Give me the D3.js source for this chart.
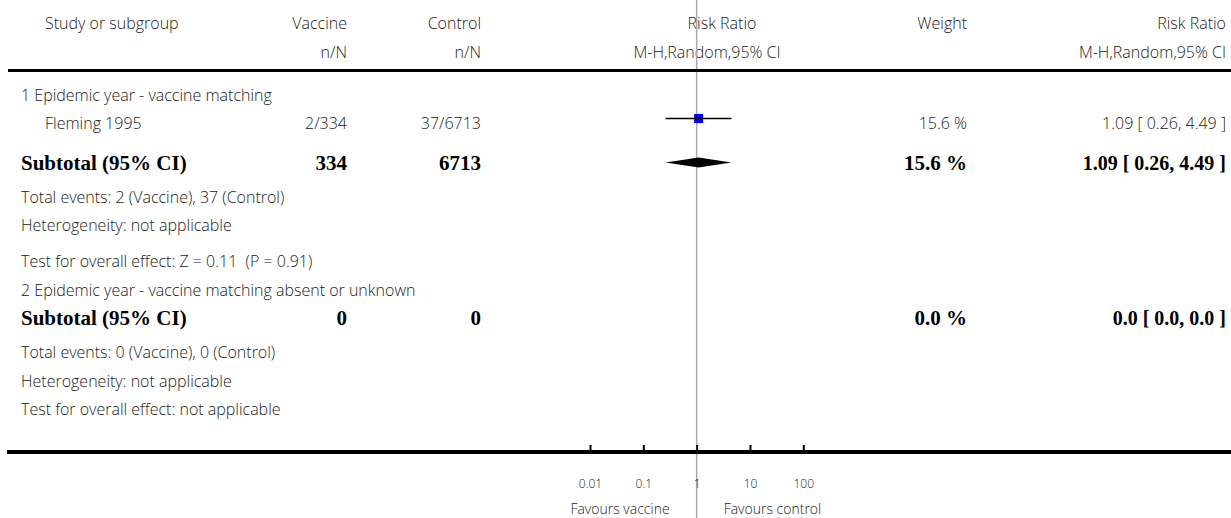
<!DOCTYPE html>
<html>
<head>
<meta charset="utf-8">
<script src="https://cdn.jsdelivr.net/npm/d3@7"></script>
<style>
  html, body { margin: 0; padding: 0; background: #fff; }
  svg { display: block; }
  .sans { font-family: "Open Sans", Lato, sans-serif; font-size: 16px; font-weight: 300; fill: #222; white-space: pre; }
  .bold { font-family: "Liberation Serif", "DejaVu Serif", serif; font-size: 21px; font-weight: bold; fill: #000; white-space: pre; }
  .ci { font-size: 20px; }
</style>
</head>
<body>
<svg id="chart" width="1231" height="518"></svg>
<script>
// Column headers
const headerTop = ["Study or subgroup", "Vaccine", "Control", "Risk Ratio", "Weight", "Risk Ratio"];
const headerSub = ["", "n/N", "n/N", "M-H,Random,95% CI", "", "M-H,Random,95% CI"];

// Subgroup 1: epidemic year - vaccine matching
const group1Title = "1 Epidemic year - vaccine matching";
const studies = ["Fleming 1995"];
const vaccineEvents = [2];
const vaccineTotals = [334];
const controlEvents = [37];
const controlTotals = [6713];
const studyRR = [1.09];
const studyLow = [0.26];
const studyHigh = [4.49];
const studyWeights = [15.6];

const group1Subtotal = { vaccineN: 334, controlN: 6713, weight: 15.6, rr: 1.09, low: 0.26, high: 4.49 };
const group1Notes = [
  "Total events: 2 (Vaccine), 37 (Control)",
  "Heterogeneity: not applicable",
  "Test for overall effect: Z = 0.11  (P = 0.91)"
];

// Subgroup 2: matching absent or unknown
const group2Title = "2 Epidemic year - vaccine matching absent or unknown";
const group2Subtotal = { vaccineN: 0, controlN: 0, weight: 0.0, rr: 0.0, low: 0.0, high: 0.0 };
const group2Notes = [
  "Total events: 0 (Vaccine), 0 (Control)",
  "Heterogeneity: not applicable",
  "Test for overall effect: not applicable"
];

// Axis ticks and direction labels
const axisTicks = [0.01, 0.1, 1, 10, 100];
const favourLabels = ["Favours vaccine", "Favours control"];

const svg = d3.select("#chart");
const W = 1231, H = 518;

// Column anchors
const col = { studyIndent: 45, groupIndent: 21, vaccine: 347, control: 481, rrHead: 722, rrCenter: 707, weight: 967, rrText: 1226 };

const x = d3.scaleLog().domain([0.01, 100]).range([590, 803.3]);

// Header
const hdr = svg.append("g");
const htext = (xp, y, anchor, t) =>
  hdr.append("text").attr("class", "sans").attr("x", xp).attr("y", y).attr("text-anchor", anchor).text(t);
htext(col.studyIndent, 29, "start", headerTop[0]);
htext(col.vaccine, 29, "end", headerTop[1]);
htext(col.control, 29, "end", headerTop[2]);
htext(col.rrHead, 29, "middle", headerTop[3]);
htext(col.weight, 29, "end", headerTop[4]);
htext(col.rrText, 29, "end", headerTop[5]);
htext(col.vaccine, 58, "end", headerSub[1]);
htext(col.control, 58, "end", headerSub[2]);
htext(col.rrCenter, 58, "middle", headerSub[3]);
htext(col.rrText, 58, "end", headerSub[5]);

// Reference line at RR = 1
svg.append("line")
  .attr("x1", x(1)).attr("x2", x(1))
  .attr("y1", 0).attr("y2", H)
  .attr("stroke", "#aaaaaa").attr("stroke-width", 1.5);

// Header rule
svg.append("line").attr("x1", 8).attr("x2", W).attr("y1", 70.5).attr("y2", 70.5)
  .attr("stroke", "#000").attr("stroke-width", 3);

const fmt2 = d3.format(".2f");
const ciText = (r, l, h) => `${fmt2(r)} [ ${fmt2(l)}, ${fmt2(h)} ]`;

const body = svg.append("g");
const stext = (xp, y, anchor, t) =>
  body.append("text").attr("class", "sans").attr("x", xp).attr("y", y).attr("text-anchor", anchor).text(t);

// Group 1
stext(col.groupIndent, 101, "start", group1Title);

const rowY0 = 129;
studies.forEach((s, i) => {
  const y = rowY0 + i * 28;
  const cy = y - 10.5;
  stext(col.studyIndent, y, "start", s);
  stext(col.vaccine, y, "end", `${vaccineEvents[i]}/${vaccineTotals[i]}`);
  stext(col.control, y, "end", `${controlEvents[i]}/${controlTotals[i]}`);
  const sz = 9;
  body.append("rect")
    .attr("x", x(studyRR[i]) - sz / 2).attr("y", cy - sz / 2)
    .attr("width", sz).attr("height", sz).attr("fill", "#0000ff");
  body.append("line")
    .attr("x1", x(studyLow[i])).attr("x2", x(studyHigh[i]))
    .attr("y1", cy).attr("y2", cy)
    .attr("stroke", "#000").attr("stroke-width", 1.3);
  stext(col.weight, y, "end", `${studyWeights[i].toFixed(1)} %`);
  stext(col.rrText, y, "end", ciText(studyRR[i], studyLow[i], studyHigh[i]));
});

function subtotalRow(sub, y, decimals) {
  const b = (xp, anchor, t) =>
    body.append("text").attr("class", "bold").attr("x", xp).attr("y", y).attr("text-anchor", anchor).text(t);
  b(col.groupIndent, "start", "Subtotal (95% CI)");
  b(col.vaccine, "end", sub.vaccineN);
  b(col.control, "end", sub.controlN);
  b(col.weight, "end", `${sub.weight.toFixed(1)} %`);
  const f = d3.format(`.${decimals}f`);
  b(col.rrText, "end", `${f(sub.rr)} [ ${f(sub.low)}, ${f(sub.high)} ]`).classed("ci", true);
}

function diamond(sub, cy) {
  const hh = 5;
  const pts = [[x(sub.low), cy], [x(sub.rr), cy - hh], [x(sub.high), cy], [x(sub.rr), cy + hh]];
  body.append("path").attr("d", d3.line()(pts) + "Z").attr("fill", "#000");
}

subtotalRow(group1Subtotal, 170, 2);
diamond(group1Subtotal, 162.5);

group1Notes.forEach((t, i) => stext(col.groupIndent, [203, 231, 267][i], "start", t));

// Group 2
stext(col.groupIndent, 296, "start", group2Title);
subtotalRow(group2Subtotal, 325, 1);
group2Notes.forEach((t, i) => stext(col.groupIndent, [358, 387, 415][i], "start", t));

// Bottom rule and log axis
svg.append("line").attr("x1", 7).attr("x2", W).attr("y1", 452).attr("y2", 452)
  .attr("stroke", "#000").attr("stroke-width", 4);

const axis = d3.axisBottom(x)
  .tickValues(axisTicks)
  .tickSizeInner(-7).tickSizeOuter(0)
  .tickPadding(0)
  .tickFormat(d => String(d));

const ax = svg.append("g").attr("transform", "translate(0,452)").call(axis);
ax.select(".domain").remove();
ax.selectAll(".tick line").attr("stroke", "#000").attr("stroke-width", 2);
ax.selectAll(".tick text")
  .attr("y", 36).attr("dy", 0)
  .attr("font-family", "'Open Sans', Lato, sans-serif")
  .attr("font-weight", 300)
  .attr("font-size", 12).attr("fill", "#222");

svg.append("text").attr("class", "sans").style("font-size", "14px")
  .attr("x", x(1) - 27).attr("y", 514).attr("text-anchor", "end").text(favourLabels[0]);
svg.append("text").attr("class", "sans").style("font-size", "14px")
  .attr("x", x(1) + 27).attr("y", 514).attr("text-anchor", "start").text(favourLabels[1]);
</script>
</body>
</html>
